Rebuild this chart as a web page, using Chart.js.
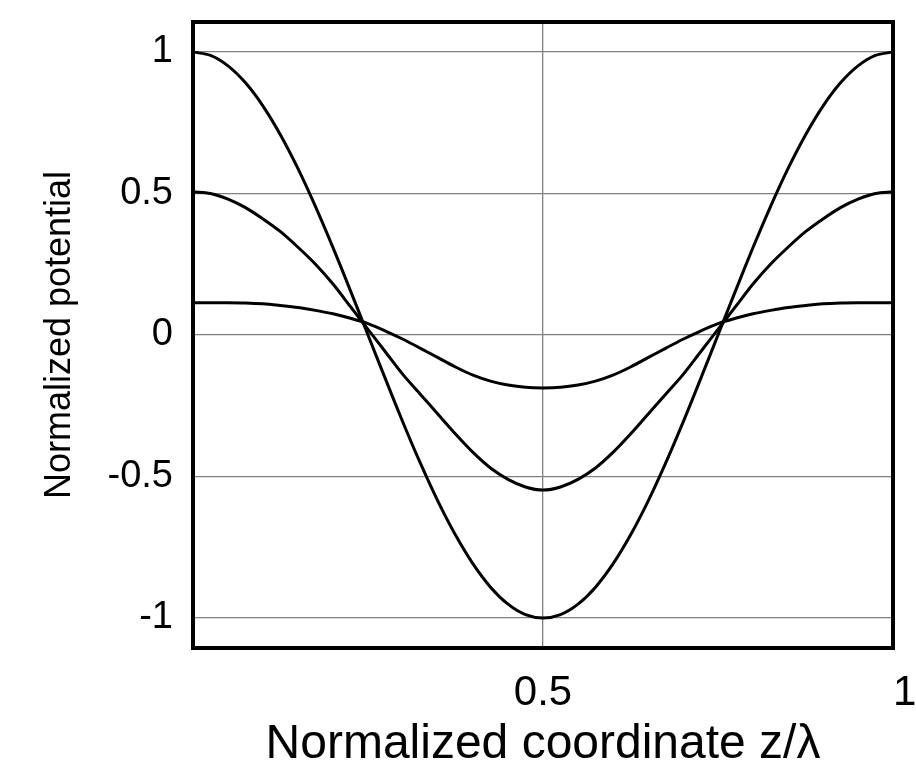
<!DOCTYPE html>
<html>
<head>
<meta charset="utf-8">
<script src="https://cdn.jsdelivr.net/npm/chart.js@4/dist/chart.umd.min.js"></script>
<style>
  html, body { margin: 0; padding: 0; background: #ffffff; }
  #wrap { width: 916px; height: 782px; }
</style>
</head>
<body>
<div id="wrap"><canvas id="grafico" width="916" height="782"></canvas></div>
<script>
// Coordenada normalizada z/lambda
const zValues = [0, 0.025, 0.05, 0.075, 0.1, 0.125, 0.15, 0.175, 0.2, 0.225, 0.25,
                 0.275, 0.3, 0.325, 0.35, 0.375, 0.4, 0.425, 0.45, 0.475, 0.5,
                 0.525, 0.55, 0.575, 0.6, 0.625, 0.65, 0.675, 0.7, 0.725, 0.75,
                 0.775, 0.8, 0.825, 0.85, 0.875, 0.9, 0.925, 0.95, 0.975, 1];

// Potencial normalizado (tres curvas)
const curvaGrande = [1, 0.988, 0.951, 0.891, 0.809, 0.707, 0.588, 0.454, 0.309, 0.156, 0.0,
                     -0.156, -0.309, -0.454, -0.588, -0.707, -0.809, -0.891, -0.951, -0.988, -1,
                     -0.988, -0.951, -0.891, -0.809, -0.707, -0.588, -0.454, -0.309, -0.156, 0.0,
                     0.156, 0.309, 0.454, 0.588, 0.707, 0.809, 0.891, 0.951, 0.988, 1];
const curvaMedia = [0.506, 0.50, 0.48, 0.45, 0.41, 0.365, 0.31, 0.25, 0.18, 0.10, 0.02,
                    -0.06, -0.14, -0.21, -0.28, -0.35, -0.415, -0.47, -0.51, -0.537, -0.548,
                    -0.537, -0.51, -0.47, -0.415, -0.35, -0.28, -0.21, -0.14, -0.06, 0.02,
                    0.10, 0.18, 0.25, 0.31, 0.365, 0.41, 0.45, 0.48, 0.50, 0.506];
const curvaPequena = [0.114, 0.114, 0.114, 0.113, 0.11, 0.104, 0.097, 0.087, 0.075, 0.059, 0.04,
                      0.014, -0.015, -0.047, -0.08, -0.113, -0.142, -0.163, -0.177, -0.185, -0.187,
                      -0.185, -0.177, -0.163, -0.142, -0.113, -0.08, -0.047, -0.015, 0.014, 0.04,
                      0.059, 0.075, 0.087, 0.097, 0.104, 0.11, 0.113, 0.114, 0.114, 0.114];

// Marcas dos eixos
const xTicks = [0.5, 1];
const xTickLabels = ['0.5', '  1'];
const yTicks = [-1, -0.5, 0, 0.5, 1];
const yTickLabels = ['-1', '-0.5', '0', '0.5', '1'];

const fonte = "'Liberation Sans', Arial, sans-serif";

function pontos(ys) {
  return zValues.map((x, i) => ({ x: x, y: ys[i] }));
}

function serie(ys) {
  return {
    data: pontos(ys),
    borderColor: '#000000',
    borderWidth: 3,
    pointRadius: 0,
    fill: false,
    tension: 0.3
  };
}

// Moldura preta em volta da area do grafico
const moldura = {
  id: 'moldura',
  afterDraw(chart) {
    const { ctx, chartArea } = chart;
    ctx.save();
    ctx.strokeStyle = '#000000';
    ctx.lineWidth = 4;
    ctx.strokeRect(chartArea.left, chartArea.top,
                   chartArea.right - chartArea.left, chartArea.bottom - chartArea.top);
    ctx.restore();
  }
};

new Chart(document.getElementById('grafico'), {
  type: 'line',
  data: {
    datasets: [serie(curvaGrande), serie(curvaMedia), serie(curvaPequena)]
  },
  options: {
    responsive: false,
    animation: false,
    layout: { padding: { left: 20, right: 23, top: 22, bottom: 8 } },
    plugins: {
      legend: { display: false },
      tooltip: { enabled: false }
    },
    scales: {
      x: {
        type: 'linear',
        min: 0,
        max: 1,
        afterBuildTicks: scale => { scale.ticks = xTicks.map(v => ({ value: v })); },
        afterFit: scale => { scale.height = 126; scale.paddingLeft = 0; scale.paddingRight = 0; },
        ticks: {
          color: '#000000',
          padding: 20,
          maxRotation: 0,
          font: { family: fonte, size: 42 },
          callback: (value) => xTickLabels[xTicks.indexOf(value)]
        },
        grid: { color: '#808080', lineWidth: 1.3, drawTicks: false },
        border: { display: false },
        title: {
          display: true,
          text: 'Normalized coordinate z/λ',
          color: '#000000',
          font: { family: fonte, size: 48 },
          padding: { top: 0, bottom: 0 }
        }
      },
      y: {
        type: 'linear',
        min: -1.106,
        max: 1.106,
        afterBuildTicks: scale => { scale.ticks = yTicks.map(v => ({ value: v })); },
        afterFit: scale => { scale.width = 173; scale.paddingTop = 0; scale.paddingBottom = 0; },
        ticks: {
          color: '#000000',
          padding: 20,
          font: { family: fonte, size: 38 },
          callback: (value) => yTickLabels[yTicks.indexOf(value)]
        },
        grid: { color: '#808080', lineWidth: 1.3, drawTicks: false },
        border: { display: false },
        title: {
          display: true,
          text: 'Normalized potential',
          color: '#000000',
          font: { family: fonte, size: 36 },
          padding: { top: 18, bottom: 0 }
        }
      }
    }
  },
  plugins: [moldura]
});
</script>
</body>
</html>
